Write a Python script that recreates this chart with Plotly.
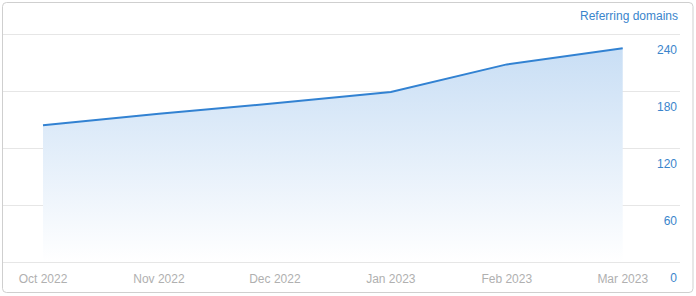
import plotly.graph_objects as go

months = ["Oct 2022", "Nov 2022", "Dec 2022", "Jan 2023", "Feb 2023", "Mar 2023"]
referring_domains = [144, 156, 167, 179, 208, 225]
y_ticks = [0, 60, 120, 180, 240]
series_name = "Referring domains"

W, H = 696, 296
ml, mr, mt, mb = 3, 16, 32, 32
pw, ph = W - ml - mr, H - mt - mb

def px(x):
    return (x - ml) / pw

def py(y):
    return (H - mb - y) / ph

fig = go.Figure()
fig.add_trace(go.Scatter(
    x=months, y=referring_domains, mode="lines", name=series_name,
    line=dict(color="#3282d2", width=2),
    fill="tozeroy",
    fillgradient=dict(type="vertical", start=0, stop=240,
                      colorscale=[[0, "rgba(255,255,255,1)"], [1, "rgba(197,220,244,1)"]]),
    hoverinfo="x+y",
))

# rounded border
x0, x1, y0, y1, r = 2.5, 693, 2.5, 292.5, 4
path = (f"M {px(x0+r)},{py(y0)} L {px(x1-r)},{py(y0)} Q {px(x1)},{py(y0)} {px(x1)},{py(y0+r)} "
        f"L {px(x1)},{py(y1-r)} Q {px(x1)},{py(y1)} {px(x1-r)},{py(y1)} "
        f"L {px(x0+r)},{py(y1)} Q {px(x0)},{py(y1)} {px(x0)},{py(y1-r)} "
        f"L {px(x0)},{py(y0+r)} Q {px(x0)},{py(y0)} {px(x0+r)},{py(y0)} Z")

fig.update_layout(
    width=W, height=H,
    margin=dict(l=ml, r=mr, t=mt, b=mb),
    paper_bgcolor="white", plot_bgcolor="white",
    showlegend=False,
    font=dict(family="Arial, Liberation Sans, sans-serif", size=12),
    xaxis=dict(
        type="category", range=[-0.345, 5.494],
        showgrid=False, zeroline=False, showline=False, ticks="",
        tickfont=dict(color="#b0b0b0", size=12),
        ticklabelstandoff=6,
    ),
    yaxis=dict(
        range=[-2.1, 242.1], side="right", tickvals=y_ticks,
        showgrid=True, gridcolor="#e6e6e6", gridwidth=1,
        zeroline=False, showline=False, ticks="",
        ticklabelposition="inside", ticklabelshift=16,
        ticklabeloverflow="allow",
        tickfont=dict(color="#3a85cc", size=12),
        ticklabelstandoff=0,
    ),
    shapes=[dict(type="path", path=path, xref="paper", yref="paper",
                 line=dict(color="#cfcfcf", width=1), fillcolor="rgba(0,0,0,0)", layer="above")],
    annotations=[dict(text=series_name, xref="paper", yref="paper",
                      x=px(680), y=py(16), xanchor="right", yanchor="middle",
                      showarrow=False, font=dict(color="#3a85cc", size=12))],
)

fig.write_html("out.html")
